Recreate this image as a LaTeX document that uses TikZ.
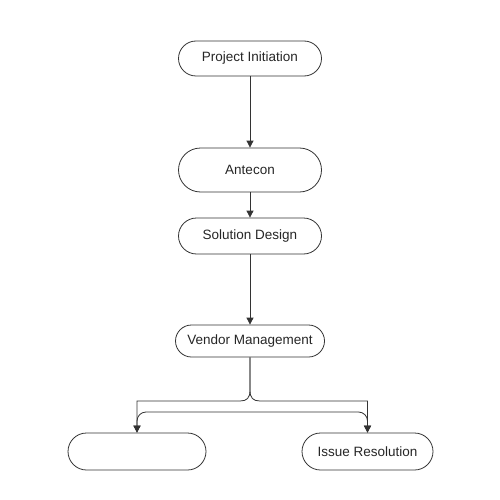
\documentclass[tikz,border=0pt]{standalone}
\usepackage{fontspec}
\setmainfont{Liberation Sans}
\usetikzlibrary{arrows.meta}
\tikzset{
	stage/.style={
			draw=black!80, line width=0.8pt, fill=white, text=black!85,
			minimum height=#1, rounded corners=#1/2,
			inner sep=0pt, font=\fontsize{13.5}{15}\selectfont
		},
	link/.style={draw=black!80, line width=0.8pt}
}

\begin{document}
\begin{tikzpicture}[x=1pt, y=-1pt, >={Triangle[length=7pt,width=7pt]}]
			\useasboundingbox[fill=white] (0,0) rectangle (500,500);

			% Stages
			\node[stage=35pt, minimum width=143pt] (init) at (250,58.5) {Project Initiation};
			\node[stage=44pt, minimum width=143pt] (ante) at (250,170) {Antecon};
			\node[stage=36pt, minimum width=143pt] (design) at (250,236) {Solution Design};
			\node[stage=32pt, minimum width=149pt] (vendor) at (250,341) {Vendor Management};
			\node[stage=37pt, minimum width=138pt] (blank) at (137,451.5) {};
			\node[stage=37pt, minimum width=131pt] (issue) at (367.5,451.5) {Issue Resolution};

			% Straight links
			\draw[link, ->] (init) -- (ante);
			\draw[link, ->] (ante) -- (design);
			\draw[link, ->] (design) -- (vendor);

			% Fork below the vendor stage
			\coordinate (fork) at (250,390);
			\draw[link, ->] (vendor.south) -- (fork) .. controls (250,398) and (247,401) .. (240,401) -| (blank.north);
			\draw[link, ->] (vendor.south) -- (fork) .. controls (250,398) and (253,401) .. (260,401) -| (issue.north);
			\draw[link, <->, rounded corners=9pt] (blank.north) -- (137,412) -- (367.5,412) -- (issue.north);
		\end{tikzpicture}
\end{document}
